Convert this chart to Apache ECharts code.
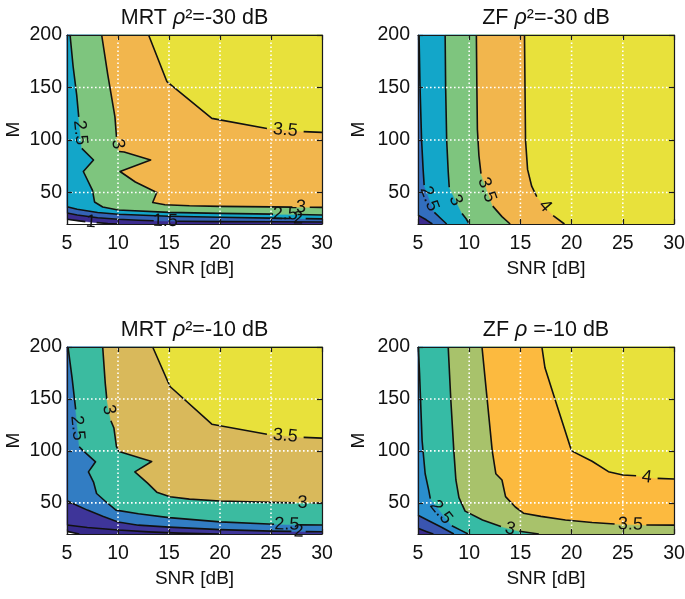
<!DOCTYPE html>
<html><head><meta charset="utf-8">
<script src="https://cdn.jsdelivr.net/npm/echarts@6/dist/echarts.min.js"></script>
<style>html,body{margin:0;padding:0;background:#fff}#c{width:685px;height:599px}</style>
</head><body><div id="c"></div>
<script>
// ---------------- data ----------------
const snrTicks = [5, 10, 15, 20, 25, 30];
const mTicks = [50, 100, 150, 200];
const xName = 'SNR [dB]';
const yName = 'M';
const panelTitles = [
  ['MRT ', 'ρ', '²=-30 dB'],
  ['ZF ', 'ρ', '²=-30 dB'],
  ['MRT ', 'ρ', '²=-10 dB'],
  ['ZF ', 'ρ', ' =-10 dB']
];

// Panel 1: MRT rho^2=-30 dB  (contour lines: [SNR, M], null = label gap)
const mrt30Levels = [1, 1.5, 2, 2.5, 3, 3.5];
const mrt30Line1 = [[5, 24.5], [6.2, 23], [6.8, 22.3], null, [7.9, 21.3], [9, 20.5], [10, 20]];
const mrt30Line15 = [[5, 30.5], [6, 28.5], [8, 26], [10, 24.5], [12, 23.6], [13.5, 23.1], null, [15.8, 22.6], [20, 22.3], [25, 22.1], [30, 21.9]];
const mrt30Line2 = [[5, 36.5], [6, 34], [8, 31], [10, 29.3], [15, 27.4], [20, 26.4], [25, 25.6], [26.9, 25.3], null, [28.4, 25.1], [30, 24.9]];
const mrt30Line25 = [[5.3, 200], [5.6, 170], [5.95, 143], [6.15, 122], null, [6.45, 92], [7.6, 81], [6.6, 70], [7.5, 52], [7.7, 41], [8.5, 36.2], [10, 33.3], [15, 31.1], [20, 30.1], [25.2, 29.4], null, [27.6, 29], [30, 28.6]];
const mrt30Line3 = [[8.4, 200], [9.0, 162], [9.7, 122], [9.85, 103], null, [10.1, 89], [10.6, 88.5], [13.2, 81], [10.2, 70], [11.7, 60], [13.8, 50], [13.4, 40.5], [14.6, 38.4], [17, 37.4], [20, 36.8], [25, 36.3], [27.1, 36.1], null, [28.8, 35.9], [30, 35.8]];
const mrt30Line35 = [[13.0, 200], [14.8, 155.5], [19.2, 120.6], [24.6, 111], null, [28.2, 108], [30, 107.3]];

// Panel 2: ZF rho^2=-30 dB
const zf30Levels = [2, 2.5, 3, 3.5, 4];
const zf30Line2 = [[5, 28.5], [5.8, 24], [6.4, 20]];
const zf30Line25 = [[5.1, 200], [5.2, 150], [5.35, 100], [5.5, 72], [5.6, 57], null, [6.6, 31], [7.2, 25.5], [7.8, 20]];
const zf30Line3 = [[7.65, 200], [7.7, 150], [7.8, 100], [7.95, 70], [8.05, 55], null, [9.3, 30], [9.7, 25], [10.0, 20]];
const zf30Line35 = [[10.7, 200], [10.75, 150], [10.8, 110], [10.95, 85], [11.15, 68], null, [12.3, 37], [13.2, 27], [14, 20]];
const zf30Line4 = [[15.4, 200], [15.45, 150], [15.5, 100], [15.7, 72], [16.1, 56], [16.6, 46], null, [18.2, 28], [19.3, 20]];

// Panel 3: MRT rho^2=-10 dB
const mrt10Levels = [1, 1.5, 2, 2.5, 3, 3.5];
const mrt10Line1 = [[5, 22.5], [6.2, 20]];
const mrt10Line15 = [[5, 28.6], [7, 26.3], [10, 23.8], [13, 22], [16, 20.8], [20, 20]];
const mrt10Line2 = [[5, 52], [6, 47.5], [7, 43], [8.5, 37], [10, 31.5], [12, 28.5], [15, 26.6], [20, 24.2], [25, 22.8], [27, 22.5], null, [28.4, 22.3], [30, 22.1]];
const mrt10Line25 = [[5.1, 200], [5.5, 170], [5.85, 140], null, [6.2, 104], [6.55, 100.5], [7.8, 89.5], [7.1, 79.8], [7.6, 70], [7.9, 59], [8.7, 52], [9.8, 43], [12, 39.5], [15, 35.8], [20, 31.7], [25.3, 29.4], null, [27.8, 28.8], [30, 28.6]];
const mrt10Line3 = [[8.5, 200], [8.75, 165], [8.9, 150], null, [9.3, 129], [9.6, 122], [9.85, 104], [10.1, 99.5], [13.3, 89.8], [11.65, 79.8], [12.9, 69], [13.8, 60.3], [15.1, 55.8], [17, 53.6], [20, 51.8], [25, 50.4], [27.3, 50], null, [28.9, 49.9], [30, 49.8]];
const mrt10Line35 = [[13.4, 200], [15.1, 162], [19.2, 125.7], [24.6, 116], null, [28.2, 113], [30, 112.3]];

// Panel 4: ZF rho=-10 dB
const zf10Levels = [1.5, 2, 2.5, 3, 3.5, 4];
const zf10Line15 = [[5, 25.5], [5.8, 22.5], [6.5, 20]];
const zf10Line2 = [[5, 38], [6, 33], [7.3, 26.5], [8.5, 20]];
const zf10Line25 = [[5.03, 200], [5.15, 175], [5.4, 110], [5.7, 78], [6.05, 62], [6.2, 54], null, [8.3, 28], [9.2, 23.5], [9.9, 20]];
const zf10Line3 = [[7.95, 200], [8.2, 150], [8.5, 100], [8.7, 72], [9.0, 55], [9.6, 42], [11.3, 33.5], [13.1, 27.2], null, [14.9, 22.6], [16.8, 20]];
const zf10Line35 = [[11.25, 200], [11.75, 150], [12.25, 100], [12.6, 78], [13.2, 72], [13.55, 56], [14.5, 46], [15.3, 40], [17, 37], [19.4, 33.5], [22, 31], [24.2, 29.6], null, [27.3, 28.7], [30, 28.5]];
const zf10Line4 = [[17.1, 200], [17.4, 180], [18.4, 149], [20, 100], [22, 90], [23.6, 80], [25, 76.8], [26.3, 76], null, [28.4, 73.5], [30, 73]];

// ---------------- styles ----------------
const FONT = '"Liberation Sans", Arial, Helvetica, sans-serif';
const YELLOW = '#e8e13b';
const panelColors = [
  ['#ffffff', '#3b2b8e', '#3463b5', '#13a6c9', '#7ec57e', '#f2b64d', YELLOW],
  ['#3b2b8e', '#326ebe', '#13a6c9', '#7ec57e', '#f2b64d', YELLOW],
  ['#ffffff', '#36298a', '#3e3599', '#327dc3', '#3bbba0', '#d9b95b', YELLOW],
  ['#3b2b8e', '#3a55b0', '#2a8ecd', '#36bba5', '#a8c26b', '#fcba3f', YELLOW]
];
const panels = [
  { levels: mrt30Levels, lines: [mrt30Line1, mrt30Line15, mrt30Line2, mrt30Line25, mrt30Line3, mrt30Line35] },
  { levels: zf30Levels, lines: [zf30Line2, zf30Line25, zf30Line3, zf30Line35, zf30Line4] },
  { levels: mrt10Levels, lines: [mrt10Line1, mrt10Line15, mrt10Line2, mrt10Line25, mrt10Line3, mrt10Line35] },
  { levels: zf10Levels, lines: [zf10Line15, zf10Line2, zf10Line25, zf10Line3, zf10Line35, zf10Line4] }
];
const grids = [
  { left: 67, top: 35, width: 255, height: 189 },
  { left: 418, top: 35, width: 256, height: 189 },
  { left: 67, top: 347, width: 255, height: 187 },
  { left: 418, top: 347, width: 256, height: 187 }
];
const yLabelMargin = [5, 8, 5, 8];
const yNameGap = [44, 50, 44, 50];

const X0 = snrTicks[0], X1 = snrTicks[snrTicks.length - 1];
const Y0 = 20, Y1 = mTicks[mTicks.length - 1];

function makeRender(pi) {
  const panel = panels[pi];
  const colors = panelColors[pi];
  return function (params, api) {
    const P = (p) => api.coord(p);
    const ch = [];
    const tl = P([X0, Y1]), br = P([X1, Y0]);
    ch.push({ type: 'rect', shape: { x: tl[0], y: tl[1], width: br[0] - tl[0], height: br[1] - tl[1] }, style: { fill: colors[0] } });
    panel.lines.forEach((line, k) => {
      const pts = line.filter(p => p);
      const A = pts[0], B = pts[pts.length - 1];
      const poly = pts.concat([[X1, B[1]], [X1, Y1], [A[0], Y1]]).map(P);
      ch.push({ type: 'polygon', shape: { points: poly }, style: { fill: colors[k + 1], stroke: colors[k + 1], lineWidth: 0.5 } });
    });
    // contour lines
    panel.lines.forEach((line) => {
      const segs = [];
      let seg = [];
      line.forEach(p => { if (p) seg.push(P(p)); else { segs.push(seg); seg = []; } });
      segs.push(seg);
      segs.forEach(s => {
        if (s.length > 1) ch.push({ type: 'polyline', shape: { points: s }, style: { stroke: '#111', lineWidth: 1.6, fill: null, lineJoin: 'round' } });
      });
    });
    // grid (dotted, on top)
    snrTicks.slice(1, -1).forEach(x => {
      const a = P([x, Y0]), b = P([x, Y1]);
      ch.push({ type: 'line', shape: { x1: a[0], y1: a[1], x2: b[0], y2: b[1] }, style: { stroke: '#ffffff', lineWidth: 1.6, lineDash: [1.6, 2.4] } });
    });
    mTicks.slice(0, -1).forEach(y => {
      const a = P([X0, y]), b = P([X1, y]);
      ch.push({ type: 'line', shape: { x1: a[0], y1: a[1], x2: b[0], y2: b[1] }, style: { stroke: '#ffffff', lineWidth: 1.6, lineDash: [1.6, 2.4] } });
    });
    // inline labels at gaps
    panel.lines.forEach((line, k) => {
      for (let i = 1; i < line.length - 1; i++) {
        if (line[i] !== null) continue;
        const a = P(line[i - 1]), b = P(line[i + 1]);
        let ang = Math.atan2(-(b[1] - a[1]), b[0] - a[0]) * 180 / Math.PI;
        if (ang >= 90) ang -= 180;
        if (ang < -90) ang += 180;
        ch.push({
          type: 'text', x: (a[0] + b[0]) / 2, y: (a[1] + b[1]) / 2, rotation: ang * Math.PI / 180,
          style: { text: String(panel.levels[k]), align: 'center', verticalAlign: 'middle', fontSize: 18, fontFamily: FONT, fill: '#111' }
        });
      }
    });
    return { type: 'group', children: ch };
  };
}

const axisLineStyle = { show: true, onZero: false, lineStyle: { color: '#1a1a1a', width: 1.2 } };
const tickStyle = { show: true, inside: true, length: 5, lineStyle: { color: '#1a1a1a', width: 1.2 } };
const xAxes = [], yAxes = [], series = [], graphics = [];
grids.forEach((g, p) => {
  xAxes.push({
    type: 'value', gridIndex: p, position: 'bottom', min: X0, max: X1, interval: 5, z: 10,
    name: xName, nameLocation: 'middle', nameGap: 35,
    nameTextStyle: { fontSize: 19, color: '#111', fontFamily: FONT },
    axisLine: axisLineStyle, axisTick: tickStyle,
    axisLabel: { margin: 10, fontSize: 19.5, color: '#111', fontFamily: FONT },
    splitLine: { show: false }
  });
  xAxes.push({
    type: 'value', gridIndex: p, position: 'top', min: X0, max: X1, interval: 5, z: 10,
    axisLine: axisLineStyle, axisTick: tickStyle, axisLabel: { show: false }, splitLine: { show: false }
  });
  yAxes.push({
    type: 'value', gridIndex: p, position: 'left', min: Y0, max: Y1, z: 10,
    name: yName, nameLocation: 'middle', nameGap: yNameGap[p],
    nameTextStyle: { fontSize: 19, color: '#111', fontFamily: FONT },
    axisLine: axisLineStyle, axisTick: Object.assign({ customValues: mTicks }, tickStyle),
    axisLabel: { customValues: mTicks, margin: yLabelMargin[p], fontSize: 19.5, color: '#111', fontFamily: FONT },
    splitLine: { show: false }
  });
  yAxes.push({
    type: 'value', gridIndex: p, position: 'right', min: Y0, max: Y1, z: 10,
    axisLine: axisLineStyle, axisTick: Object.assign({ customValues: mTicks }, tickStyle),
    axisLabel: { show: false }, splitLine: { show: false }
  });
  series.push({
    type: 'custom', xAxisIndex: 2 * p, yAxisIndex: 2 * p, data: [[X0, Y0]],
    renderItem: makeRender(p), silent: true, clip: false, z: 2
  });
  const t = panelTitles[p];
  graphics.push({
    type: 'text', x: g.left + g.width / 2, y: g.top - 17, z: 20,
    style: {
      text: '{n|' + t[0] + '}{g|' + t[1] + '}{n|' + t[2] + '}',
      align: 'center', verticalAlign: 'middle',
      rich: {
        n: { fontSize: 21.5, fontFamily: FONT, fill: '#111' },
        g: { fontSize: 21.5, fontFamily: FONT, fontStyle: 'italic', fill: '#111' }
      }
    }
  });
});

const chart = echarts.init(document.getElementById('c'), null, { renderer: 'canvas' });
chart.setOption({
  animation: false,
  backgroundColor: '#ffffff',
  grid: grids.map(g => Object.assign({ containLabel: false, outerBoundsMode: 'none' }, g)),
  xAxis: xAxes,
  yAxis: yAxes,
  series: series,
  graphic: graphics
});
</script></body></html>
